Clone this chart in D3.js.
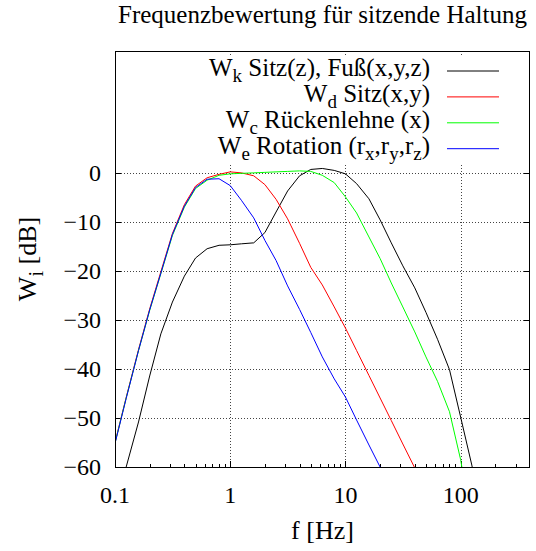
<!DOCTYPE html>
<html><head><meta charset="utf-8">
<script src="https://cdn.jsdelivr.net/npm/d3@7"></script>
<style>body{margin:0;background:#fff}svg{display:block}text{font-family:"Liberation Serif","Times New Roman",serif;fill:#000}</style>
</head><body>
<script>
const freqs = [0.1,0.125,0.16,0.2,0.25,0.315,0.4,0.5,0.63,0.8,1,1.25,1.6,2,2.5,3.15,4,5,6.3,8,10,12.5,16,20,25,31.5,40,50,63,80,100,125,160];
const wk = [-72,-60,-50.8,-41.4,-32.8,-26.3,-21.0,-17.3,-15.4,-14.7,-14.6,-14.4,-14.2,-12.1,-7.9,-3.6,-0.5,0.8,1.0,0.6,-0.1,-2.1,-5.2,-9.5,-14.2,-18.9,-23.4,-28.4,-33.9,-40.1,-49.8,-59.6,-72];
const wd = [-55.0,-45.8,-36.0,-27.7,-20.1,-12.3,-6.4,-2.6,-0.9,-0.2,0.3,0.1,-0.5,-2.3,-5.3,-9.3,-14.3,-19.2,-22.8,-27.3,-31.6,-36.2,-41.3,-45.9,-50.5,-55.3,-60.2,-64.7,-69,-73,-77,-81,-85];
const wc = [-55.1,-45.9,-36.2,-28.0,-20.5,-12.7,-6.9,-3.1,-1.4,-0.4,-0.1,0,0.1,0.2,0.3,0.4,0.5,0.4,-0.4,-1.9,-4.8,-8.1,-13.0,-17.4,-22.4,-27.3,-32.4,-37.5,-42.5,-48.7,-58.5,-72,-85];
const we = [-55.2,-46.0,-36.2,-27.9,-20.4,-12.5,-6.7,-2.9,-1.2,-1.1,-2.5,-5.5,-9.1,-13.7,-17.8,-23.0,-27.8,-32.5,-37.5,-42.0,-45.7,-50.4,-55.5,-60,-64.5,-69,-73.5,-78,-82,-86,-90,-94,-98];
const seriesNames = [
  [["W",""],["k","sub"],[" Sitz(z), Fuß(x,y,z)",""]],
  [["W",""],["d","sub"],[" Sitz(x,y)",""]],
  [["W",""],["c","sub"],[" Rückenlehne (x)",""]],
  [["W",""],["e","sub"],[" Rotation (r",""],["x","sub"],[",r",""],["y","sub"],[",r",""],["z","sub"],[")",""]]
];
const seriesColors = ["#000000","#ff0000","#00ff00","#0000ff"];
const xTickVals = [0.1,1,10,100];
const xTickLabels = ["0.1","1","10","100"];
const xMinor = [0.2,0.3,0.4,0.5,0.6,0.7,0.8,0.9,2,3,4,5,6,7,8,9,20,30,40,50,60,70,80,90,200,300];
const yTickVals = [0,-10,-20,-30,-40,-50,-60];
const yTickLabels = ["0","−10","−20","−30","−40","−50","−60"];
const title = "Frequenzbewertung für sitzende Haltung";
const xLabel = "f [Hz]";

const W = 536, H = 551;
const L = 115, R = 530, T = 51, B = 467;
const svg = d3.select("body").append("svg").attr("width", W).attr("height", H);
const x = d3.scaleLog().domain([0.1, 400]).range([L, R]);
const y = d3.scaleLinear().domain([-60, 25]).range([B, T]);

svg.append("defs").append("clipPath").attr("id","clip")
  .append("rect").attr("x",L).attr("y",T).attr("width",R-L).attr("height",B-T);

// grid
const g = svg.append("g").attr("stroke","#444").attr("stroke-width",1).attr("stroke-dasharray","1,2");
yTickVals.filter(v => v > -60).forEach(v => g.append("line").attr("x1",L).attr("x2",R).attr("y1",Math.round(y(v))+0.5).attr("y2",Math.round(y(v))+0.5));
xTickVals.filter(v => v > 0.1).forEach(v => g.append("line").attr("x1",Math.round(x(v))+0.5).attr("x2",Math.round(x(v))+0.5).attr("y1",T).attr("y2",B));

// ticks
const tk = svg.append("g").attr("stroke","#000").attr("stroke-width",1);
yTickVals.forEach(v => {
  const yy = Math.round(y(v))+0.5;
  tk.append("line").attr("x1",L).attr("x2",L+6).attr("y1",yy).attr("y2",yy);
  tk.append("line").attr("x1",R-6).attr("x2",R).attr("y1",yy).attr("y2",yy);
});
xTickVals.forEach(v => { const xx = Math.round(x(v))+0.5; tk.append("line").attr("x1",xx).attr("x2",xx).attr("y1",B).attr("y2",B-6); });
xMinor.forEach(v => { const xx = Math.round(x(v))+0.5; tk.append("line").attr("x1",xx).attr("x2",xx).attr("y1",B).attr("y2",B-3); });

// curves
const line = d3.line().x((d,i) => x(freqs[i])).y(d => y(d));
const cg = svg.append("g").attr("clip-path","url(#clip)");
[wk, wd, wc, we].forEach((s, i) => {
  cg.append("path").attr("d", line(s)).attr("fill","none").attr("stroke", seriesColors[i]).attr("stroke-width",1);
});

// legend background
svg.append("rect").attr("x",185).attr("y",57).attr("width",330).attr("height",106).attr("fill","#fff");
seriesNames.forEach((parts, i) => {
  const ry = 71 + i*25.9;
  const t = svg.append("text").attr("x",430).attr("y",ry+5).attr("text-anchor","end").attr("font-size",25);
  let shift = 0;
  parts.forEach(([s, kind]) => {
    const sp = t.append("tspan").text(s);
    if (kind === "sub") { sp.attr("font-size",19).attr("dy", 6 - shift); shift = 6; }
    else { if (shift) sp.attr("dy", -shift); shift = 0; }
  });
  svg.append("line").attr("x1",447).attr("x2",499).attr("y1",ry).attr("y2",ry).attr("stroke",seriesColors[i]).attr("stroke-width",1);
});

// frame
svg.append("rect").attr("x",L+0.5).attr("y",T+0.5).attr("width",R-L-1).attr("height",B-T).attr("fill","none").attr("stroke","#000").attr("stroke-width",1);

// tick labels
yTickVals.forEach((v,i) => svg.append("text").attr("x",101).attr("y",y(v)+8).attr("text-anchor","end").attr("font-size",24).text(yTickLabels[i]));
xTickVals.forEach((v,i) => svg.append("text").attr("x",x(v)).attr("y",503).attr("text-anchor","middle").attr("font-size",24).text(xTickLabels[i]));

// axis labels
svg.append("text").attr("x",(L+R)/2).attr("y",539).attr("text-anchor","middle").attr("font-size",26).text(xLabel);
const yl = svg.append("text").attr("transform","translate(36,259) rotate(-90)").attr("text-anchor","middle").attr("font-size",26);
yl.append("tspan").text("W");
yl.append("tspan").attr("font-size",20).attr("dy",7).text("i");
yl.append("tspan").attr("dy",-7).text(" [dB]");

// title
svg.append("text").attr("x",(L+R)/2).attr("y",23).attr("text-anchor","middle").attr("font-size",25).text(title);
</script>
</body></html>
